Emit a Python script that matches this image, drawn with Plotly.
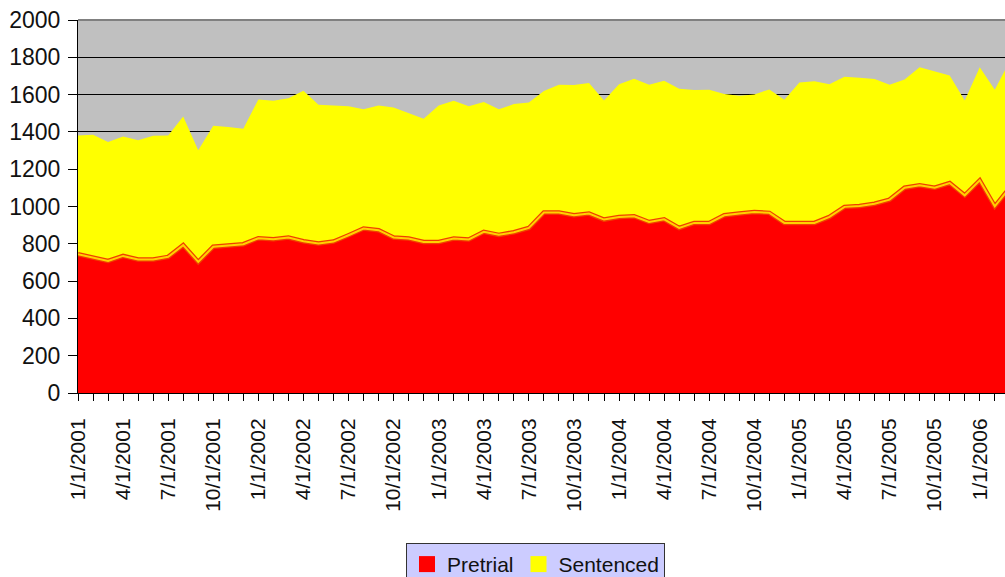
import plotly.graph_objects as go

# Monthly categories 1/1/2001 .. 3/1/2006
months = []
for yr in range(2001, 2007):
    for mo in range(1, 13):
        if yr == 2006 and mo > 3:
            break
        months.append(f"{mo}/1/{yr}")

pretrial = [744, 726, 708, 735, 716, 716, 730, 793, 703, 784, 791, 798,
            830, 825, 834, 814, 802, 812, 846, 882, 873, 834, 828, 810,
            810, 828, 823, 864, 848, 862, 885, 968, 968, 953, 962, 930,
            944, 948, 917, 931, 885, 912, 912, 953, 962, 971, 966, 912,
            912, 912, 944, 998, 1003, 1015, 1037, 1101, 1114, 1101, 1126, 1060,
            1140, 1001, 1101]

sentenced = [637, 659, 638, 641, 639, 664, 651, 690, 598, 649, 635, 619,
             744, 742, 746, 807, 744, 730, 691, 640, 669, 697, 673, 661,
             732, 739, 714, 696, 673, 687, 672, 651, 685, 698, 700, 639,
             711, 737, 736, 743, 747, 712, 714, 650, 632, 630, 662, 660,
             753, 760, 712, 698, 687, 668, 616, 580, 633, 623, 577, 509,
             607, 625, 679]

tick_text = [m if m.split("/")[0] in ("1", "4", "7", "10") else "" for m in months]
y_ticks = list(range(0, 2001, 200))

FONT = "Liberation Sans, Arial, sans-serif"

fig = go.Figure()
fig.add_trace(go.Scatter(x=months, y=pretrial, name="Pretrial", stackgroup="one",
                         mode="lines", line=dict(width=0, color="#FF0000"),
                         fillcolor="#FF0000", showlegend=False))
fig.add_trace(go.Scatter(x=months, y=sentenced, name="Sentenced", stackgroup="one",
                         mode="lines", line=dict(width=0, color="#FFFF00"),
                         fillcolor="#FFFF00", showlegend=False))
# boundary stroke of the pretrial area
fig.add_trace(go.Scatter(x=months, y=pretrial, mode="lines", hoverinfo="skip",
                         line=dict(width=4.5, color="#F04000"), showlegend=False))
fig.add_trace(go.Scatter(x=months, y=pretrial, mode="lines", hoverinfo="skip",
                         line=dict(width=2, color="#FFD200"), showlegend=False))
# legend proxies
fig.add_trace(go.Scatter(x=[None], y=[None], mode="markers", name="Pretrial",
                         marker=dict(symbol="square", size=17, color="#FF0000",
                                     line=dict(width=0))))
fig.add_trace(go.Scatter(x=[None], y=[None], mode="markers", name="Sentenced",
                         marker=dict(symbol="square", size=17, color="#FFFF00",
                                     line=dict(width=0))))

fig.update_layout(
    width=1005, height=577,
    margin=dict(l=78, r=0, t=20, b=184, autoexpand=False),
    paper_bgcolor="white",
    plot_bgcolor="#C0C0C0",
    font=dict(family=FONT, size=21, color="#111111"),
    showlegend=True,
    legend=dict(orientation="h", xref="paper", yref="paper",
                x=0.4935, xanchor="center", y=-0.402, yanchor="top",
                bgcolor="#CCCCFF", bordercolor="#333333", borderwidth=1,
                font=dict(family=FONT, size=21, color="#111111"),
                itemwidth=30, traceorder="normal"),
    xaxis=dict(type="category", range=[0, 61.68], automargin=False,
               tickmode="array", tickvals=months, ticktext=tick_text,
               tickangle=-90, ticks="outside", ticklen=7, tickcolor="black",
               ticklabelstandoff=9,
               showline=True, linecolor="black", linewidth=1,
               showgrid=False, zeroline=False,
               tickfont=dict(family=FONT, size=21, color="#111111")),
    yaxis=dict(range=[0, 2000], tickmode="array", tickvals=y_ticks, automargin=False,
               ticks="outside", ticklen=9, tickcolor="black",
               ticklabelstandoff=3,
               showline=True, linecolor="black", linewidth=1,
               showgrid=True, gridcolor="black", gridwidth=1,
               zeroline=False,
               tickfont=dict(family=FONT, size=23, color="#111111")),
    shapes=[dict(type="line", xref="paper", yref="paper", x0=0, x1=1, y0=1, y1=1,
                 line=dict(color="#808080", width=2), layer="above")],
)

fig.write_html("out.html", config={"displayModeBar": False},
               post_script="document.body.style.margin='0';"
                           "document.body.style.overflow='hidden';")
